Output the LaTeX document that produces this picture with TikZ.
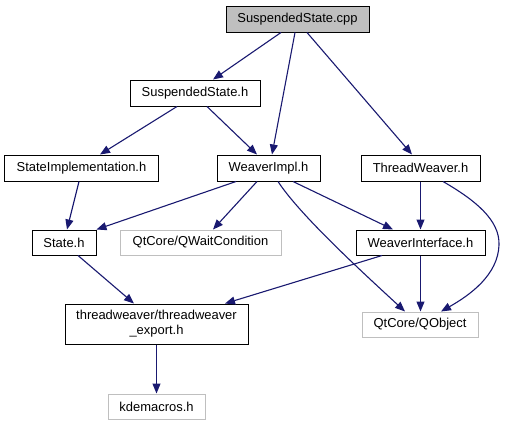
\documentclass[tikz,border=0pt]{standalone}
\usepackage{fontspec}
\setmainfont{Liberation Sans}
\usetikzlibrary{arrows.meta,calc}
\definecolor{edgeblue}{HTML}{191970}
\definecolor{boxgray}{HTML}{BFBFBF}
\begin{document}
\begin{tikzpicture}[x=1bp,y=-1bp,
  box/.style={draw=black,line width=1bp,inner sep=0pt,minimum height=26bp,align=center,font=\fontsize{13}{15}\selectfont},
  extbox/.style={box,draw=boxgray},
  edge/.style={draw=edgeblue,line width=1.1bp,-{Triangle[length=10bp,width=8bp]}}]
\useasboundingbox (0,0) rectangle (505,425);
\node[box,fill=boxgray,minimum width=143bp] (cpp) at (297.5,19) {SuspendedState.cpp};
\node[box,minimum width=130bp] (sh) at (195,93) {SuspendedState.h};
\node[box,minimum width=153bp] (si) at (81.5,168) {StateImplementation.h};
\node[box,minimum width=103bp] (wi) at (268.5,168) {WeaverImpl.h};
\node[box,minimum width=119bp] (tw) at (420.5,168) {ThreadWeaver.h};
\node[box,minimum width=64bp,minimum height=25bp] (st) at (64,242.5) {State.h};
\node[extbox,minimum width=161bp,minimum height=25bp] (qwc) at (200.5,242.5) {QtCore/QWaitCondition};
\node[box,minimum width=129bp,minimum height=25bp] (wif) at (420.5,242.5) {WeaverInterface.h};
\node[box,minimum width=183bp,minimum height=40bp] (exp) at (156.5,324) {threadweaver/threadweaver\\\_export.h};
\node[extbox,minimum width=116bp,minimum height=25bp] (qo) at (420,324.5) {QtCore/QObject};
\node[extbox,minimum width=97bp,minimum height=25bp] (kde) at (156.5,406.5) {kdemacros.h};

\draw[edge] ([xshift=-16.5bp]cpp.south) -- ([xshift=18bp]sh.north);
\draw[edge] ([xshift=-2.5bp]cpp.south) -- ([xshift=3.5bp]wi.north);
\draw[edge] ([xshift=9.5bp]cpp.south) -- ([xshift=-8.5bp]tw.north);
\draw[edge] ([xshift=-18bp]sh.south) -- ([xshift=18.5bp]si.north);
\draw[edge] ([xshift=12bp]sh.south) -- ([xshift=-11.5bp]wi.north);
\draw[edge] ([xshift=-2.5bp]si.south) -- ([xshift=3bp]st.north);
\draw[edge] ([xshift=-32.5bp]wi.south) -- (st.north east);
\draw[edge] ([xshift=-11.5bp]wi.south) -- ([xshift=12.5bp]qwc.north);
\draw[edge] ([xshift=9.5bp]wi.south) .. controls (300,215) and (360,270) .. ([xshift=-15bp]qo.north);
\draw[edge] ([xshift=24.5bp]wi.south) -- ([xshift=-27.5bp]wif.north);
\draw[edge] (tw.south) -- (wif.north);
\draw[edge] ([xshift=22.5bp]tw.south) .. controls (475,200) and (500,220) .. (499,245) .. controls (498,275) and (470,295) .. ([xshift=21bp]qo.north);
\draw[edge] ([xshift=14bp]st.south) -- ([xshift=-22.5bp]exp.north);
\draw[edge] ([xshift=-38.5bp]wif.south) -- ([xshift=68.5bp]exp.north);
\draw[edge] (wif.south) -- ([xshift=0.5bp]qo.north);
\draw[edge] (exp.south) -- (kde.north);
\end{tikzpicture}
\end{document}
